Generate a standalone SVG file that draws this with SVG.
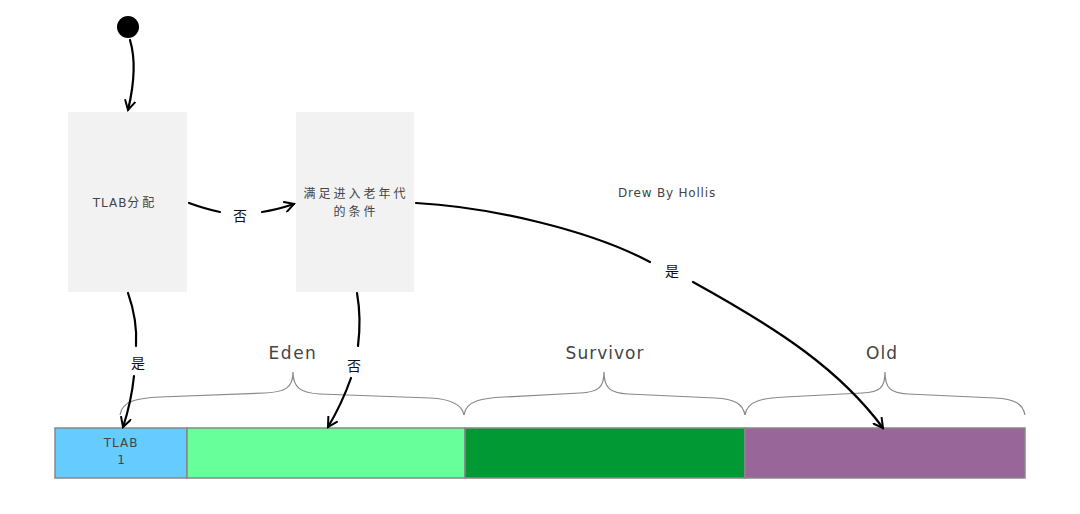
<svg xmlns="http://www.w3.org/2000/svg" width="1080" height="514" viewBox="0 0 1080 514">
<defs>
<style>
.box{fill:#f2f2f2;stroke:none}
.t{font-family:"DejaVu Sans","Noto Sans CJK SC",sans-serif;fill:#444}
.cj{font-family:"Noto Sans CJK SC",sans-serif;fill:#444;letter-spacing:3px}
.lbl{font-family:"Noto Sans CJK SC",sans-serif;fill:#111;font-size:14px}
.con{fill:none;stroke:#000;stroke-width:2.2;stroke-linecap:round}
.brace{fill:none;stroke:#888;stroke-width:1.2}
.seg{stroke:#888;stroke-width:1.5}
</style>
<marker id="ah" viewBox="0 0 12 12" refX="10" refY="6" markerWidth="12" markerHeight="12" markerUnits="userSpaceOnUse" orient="auto">
<path d="M1,1 L10,6 L1,11" fill="none" stroke="#000" stroke-width="2" stroke-linecap="round"/>
</marker>
</defs>
<rect width="1080" height="514" fill="#fff"/>

<g id="start"><circle cx="128" cy="27" r="11" fill="#000"/></g>

<g id="tlab-alloc">
<rect class="box" x="68" y="112" width="119" height="180"/>
<text class="t" x="125" y="207" font-size="12" letter-spacing="1" text-anchor="middle">TLAB<tspan class="cj" letter-spacing="2">分配</tspan></text>
</g>

<g id="cond">
<rect class="box" x="296" y="112" width="118" height="180"/>
<text class="cj" x="356" y="198" font-size="12" text-anchor="middle">满足进入老年代</text>
<text class="cj" x="356" y="216" font-size="12" text-anchor="middle">的条件</text>
</g>

<g id="watermark"><text class="t" x="667" y="197" font-size="12" fill="#555" letter-spacing="0.8" text-anchor="middle">Drew By Hollis</text></g>

<g id="bar">
<rect id="tlab1" class="seg" x="55" y="428" width="132" height="50" fill="#66ccff"/>
<rect id="eden" class="seg" x="187" y="428" width="278" height="50" fill="#66ff99"/>
<rect id="survivor" class="seg" x="465" y="428" width="280" height="50" fill="#009933"/>
<rect id="old" class="seg" x="745" y="428" width="280" height="50" fill="#996699"/>
<text class="t" x="121" y="447" font-size="12" fill="#333" letter-spacing="1" text-anchor="middle">TLAB</text>
<text class="t" x="121" y="464" font-size="12" fill="#333" text-anchor="middle">1</text>
</g>

<g id="braces">
<path class="brace" d="M120,415 C122,400 140,398 160,397 L265,393 C285,392 293,388 293,372 C293,388 301,393 320,394 L430,398 C450,399 462,404 464,415"/>
<path class="brace" d="M464,415 C466,400 484,398 504,397 L580,393 C598,392 604,388 604,372 C604,388 610,393 628,394 L715,398 C735,399 743,404 745,415"/>
<path class="brace" d="M745,415 C747,400 765,398 785,397 L862,393 C880,392 885,388 885,372 C885,388 890,393 908,394 L995,398 C1015,399 1023,404 1025,415"/>
<text class="t" x="293" y="359" font-size="17" fill="#333" letter-spacing="1.5" text-anchor="middle">Eden</text>
<text class="t" x="605" y="359" font-size="17" fill="#333" letter-spacing="1" text-anchor="middle">Survivor</text>
<text class="t" x="882" y="359" font-size="17" fill="#333" letter-spacing="1" text-anchor="middle">Old</text>
</g>

<g id="connectors">
<path class="con" d="M130,40 C136,60 134,85 128,110" marker-end="url(#ah)"/>
<path class="con" d="M189,203 C200,207 210,210 220,212"/>
<path class="con" d="M262,212 C275,210 285,207 294,204" marker-end="url(#ah)"/>
<text class="lbl" x="240" y="221" text-anchor="middle">否</text>
<path class="con" d="M416,203 C490,207 590,230 650,262"/>
<path class="con" d="M693,282 C780,330 840,370 883,428" marker-end="url(#ah)"/>
<text class="lbl" x="672" y="276" text-anchor="middle">是</text>
<path class="con" d="M128,293 C134,310 137,330 136,346"/>
<path class="con" d="M134,376 C132,395 128,412 123,427" marker-end="url(#ah)"/>
<text class="lbl" x="138" y="368" text-anchor="middle">是</text>
<path class="con" d="M357,293 C360,310 360,330 358,346"/>
<path class="con" d="M351,378 C345,395 337,412 328,427" marker-end="url(#ah)"/>
<text class="lbl" x="354" y="371" text-anchor="middle">否</text>
</g>
</svg>
